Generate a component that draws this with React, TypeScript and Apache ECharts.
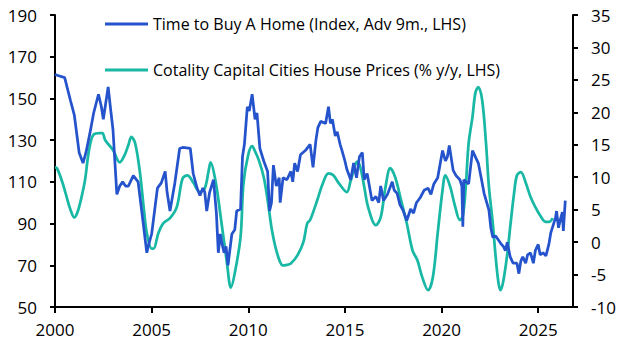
import React, { useEffect, useRef } from "react";
import * as echarts from "echarts";

const buyName = "Time to Buy A Home (Index, Adv 9m., LHS)";
const priceName = "Cotality Capital Cities House Prices (% y/y, LHS)";

const xTicks = [2000, 2005, 2010, 2015, 2020, 2025];

const buyYears = [
  2000.0, 2000.15, 2000.5, 2000.8, 2001.0, 2001.25, 2001.45, 2001.6, 2001.8, 2002.0,
  2002.25, 2002.4, 2002.5, 2002.75, 2002.9, 2003.0, 2003.2, 2003.35, 2003.5, 2003.65,
  2003.8, 2004.05, 2004.3, 2004.5, 2004.75, 2004.85, 2005.0, 2005.3, 2005.5, 2005.7,
  2005.8, 2005.95, 2006.2, 2006.45, 2006.6, 2007.0, 2007.15, 2007.35, 2007.5, 2007.65,
  2007.75, 2007.85, 2008.0, 2008.2, 2008.35, 2008.45, 2008.55, 2008.65, 2008.75, 2008.85,
  2008.95, 2009.15, 2009.3, 2009.4, 2009.6, 2009.7, 2009.8, 2009.95, 2010.05, 2010.2,
  2010.35, 2010.45, 2010.6, 2010.8, 2011.0, 2011.1, 2011.2, 2011.3, 2011.45, 2011.6,
  2011.65, 2011.8, 2012.0, 2012.2, 2012.3, 2012.4, 2012.55, 2012.7, 2012.95, 2013.2,
  2013.35, 2013.5, 2013.6, 2013.75, 2014.0, 2014.15, 2014.25, 2014.35, 2014.5, 2014.6,
  2014.75, 2014.85, 2015.0, 2015.1, 2015.3, 2015.45, 2015.6, 2015.75, 2015.9, 2016.0,
  2016.15, 2016.4, 2016.6, 2016.75, 2016.85, 2017.0, 2017.2, 2017.45, 2017.55, 2017.7,
  2017.85, 2018.0, 2018.2, 2018.4, 2018.55, 2018.7, 2018.9, 2019.1, 2019.3, 2019.45,
  2019.6, 2019.8, 2020.05, 2020.2, 2020.3, 2020.4, 2020.6, 2020.75, 2020.95, 2021.05,
  2021.1, 2021.15, 2021.4, 2021.6, 2021.75, 2021.9, 2022.05, 2022.2, 2022.45, 2022.55,
  2022.65, 2022.8, 2022.95, 2023.1, 2023.2, 2023.3, 2023.4, 2023.55, 2023.7, 2023.9,
  2024.0, 2024.1, 2024.2, 2024.35, 2024.45, 2024.6, 2024.75, 2024.85, 2025.0, 2025.1,
  2025.25, 2025.4, 2025.55, 2025.65, 2025.8, 2025.9, 2025.95, 2026.05, 2026.15, 2026.25,
  2026.3, 2026.4,
];
const buyValues = [
  161.5, 161, 160, 149, 142, 124, 119, 124, 133, 143,
  152, 146, 140, 155.5, 143, 135, 104, 108, 110, 108,
  108, 113, 110, 95, 76, 80, 85, 107, 109.5, 115,
  105, 96, 109.5, 126, 126.5, 126, 114, 107, 103.5, 107,
  105, 96, 105, 111, 95, 76, 85, 80, 76, 79,
  70, 85, 87, 96, 97, 122, 128, 146, 144, 152,
  140, 143, 126, 120, 115, 96, 100, 118, 108, 112,
  100, 112, 111, 115, 110, 119, 115, 123, 125, 128,
  117, 130, 136, 139, 138, 146, 138, 140, 132, 134,
  128, 125, 120, 116, 111, 119, 112, 122, 124, 111,
  114, 101, 103, 100, 108, 101, 104, 110, 106, 104.5,
  99, 96.5, 91.5, 97, 95, 100, 102.5, 106, 107, 104,
  109, 112, 125, 120, 122, 127.5, 115.5, 113, 111, 108,
  88.5, 111, 109, 125, 122, 119, 112, 104.5, 96.5, 88,
  83.5, 84, 82, 80, 79, 77, 81, 74, 71, 71,
  66, 72, 74, 71, 75, 76, 71, 77, 80, 75,
  76, 74.5, 80, 85.5, 90, 93, 96, 88, 92, 95.5,
  86.5, 101,
];

const priceYears = [
  2000.0, 2000.1, 2000.35, 2000.55, 2000.8, 2001.0, 2001.15, 2001.3, 2001.55, 2001.7,
  2001.85, 2002.0, 2002.3, 2002.45, 2002.6, 2003.0, 2003.35, 2003.6, 2003.8, 2003.95,
  2004.15, 2004.4, 2004.6, 2004.75, 2005.0, 2005.1, 2005.35, 2005.6, 2005.95, 2006.3,
  2006.6, 2006.85, 2007.15, 2007.5, 2007.75, 2007.95, 2008.05, 2008.3, 2008.55, 2008.9,
  2009.1, 2009.3, 2009.6, 2009.75, 2010.0, 2010.2, 2010.35, 2010.55, 2010.8, 2011.0,
  2011.25, 2011.55, 2011.8, 2012.0, 2012.2, 2012.55, 2012.85, 2013.05, 2013.2, 2013.55,
  2013.85, 2014.15, 2014.4, 2014.7, 2015.1, 2015.3, 2015.65, 2015.8, 2016.0, 2016.2,
  2016.6, 2016.85, 2017.1, 2017.35, 2017.6, 2017.9, 2018.2, 2018.5, 2018.75, 2019.0,
  2019.3, 2019.55, 2019.8, 2020.05, 2020.2, 2020.45, 2020.7, 2020.95, 2021.1, 2021.25,
  2021.4, 2021.6, 2021.75, 2021.9, 2022.1, 2022.3, 2022.45, 2022.65, 2022.8, 2022.95,
  2023.05, 2023.2, 2023.4, 2023.55, 2023.75, 2023.9, 2024.1, 2024.35, 2024.6, 2024.85,
  2025.1, 2025.4, 2025.55, 2025.75,
];
const priceValues = [
  11.5, 11.4, 9.5, 7.5, 5, 3.8, 4.5, 6, 9.5, 13,
  15.5, 16.6, 16.8, 16.8, 15.7, 14.2, 12.3, 13.4, 15, 16.2,
  15.2, 10.6, 5, 1.4, -1, -1, 1.4, 2.9, 3.7, 5.4,
  9.8, 10.3, 9.2, 7.7, 8.3, 11, 12.3, 9.5, 4.4, -3.3,
  -7, -4.8, 0.8, 9, 13.5, 14.8, 14, 12.6, 10, 6.5,
  1.4, -2.3, -3.6, -3.5, -3.3, -2, 0, 2.9, 3.4, 6.3,
  9, 10.6, 10.3, 9, 7.7, 9.5, 12.4, 11.5, 8.5, 5.4,
  2.6, 3.8, 8.5, 11.4, 10, 6.5, 2.9, -1.3, -2.8, -5.4,
  -7.4, -5.4, 1.4, 8, 10.3, 8.5, 5.5, 3.4, 4, 8.5,
  15.2, 19.3, 23, 23.9, 21.9, 15.2, 8.5, 2.9, -2.3, -6.4,
  -7.4, -5.9, -1.8, 2.3, 7.5, 10.3, 10.8, 9.2, 7, 5.4,
  4.1, 3.1, 3.1, 3.7,
];

const BLUE = "#2453cc";
const TEAL = "#19b8a5";
const FONT = "Open Sans";

export default function App() {
  const ref = useRef<HTMLDivElement>(null);
  useEffect(() => {
    if (!ref.current) return;
    const chart = echarts.init(ref.current, null, { renderer: "svg" });
    const buyData = buyYears.map((y, i) => [y, buyValues[i]]);
    const priceData = priceYears.map((y, i) => [y, priceValues[i]]);
    const axisText = { color: "#000", fontSize: 17, fontFamily: FONT };
    const legendBase = {
      left: 100,
      icon: "rect",
      itemWidth: 43,
      itemHeight: 3,
      itemGap: 4,
      textStyle: { color: "#000", fontSize: 16, fontFamily: FONT },
    };
    chart.setOption({
      animation: false,
      backgroundColor: "#fff",
      grid: { left: 55, right: 54, top: 15, bottom: 45, containLabel: false },
      legend: [
        { ...legendBase, data: [buyName], top: 11 },
        { ...legendBase, data: [priceName], top: 57 },
      ],
      xAxis: {
        type: "value",
        min: 2000,
        max: 2026.8,
        interval: 5,
        splitLine: { show: false },
        axisLine: { show: true, onZero: false, lineStyle: { color: "#000", width: 2 } },
        axisTick: { show: true, length: 6, lineStyle: { color: "#000", width: 2 }, customValues: xTicks },
        axisLabel: { ...axisText, margin: 14, customValues: xTicks, formatter: (v: number) => String(v) },
      },
      yAxis: [
        {
          type: "value",
          min: 50,
          max: 190,
          interval: 20,
          position: "left",
          splitLine: { show: false },
          axisLine: { show: true, lineStyle: { color: "#000", width: 2 } },
          axisTick: { show: true, length: 5, lineStyle: { color: "#000", width: 2 } },
          axisLabel: { ...axisText, margin: 18 },
        },
        {
          type: "value",
          min: -10,
          max: 35,
          interval: 5,
          position: "right",
          splitLine: { show: false },
          axisLine: { show: true, lineStyle: { color: "#000", width: 2 } },
          axisTick: { show: true, length: 5, lineStyle: { color: "#000", width: 2 } },
          axisLabel: { ...axisText, margin: 18 },
        },
      ],
      series: [
        {
          name: priceName,
          type: "line",
          yAxisIndex: 1,
          data: priceData,
          showSymbol: false,
          smooth: 0.35,
          lineStyle: { color: TEAL, width: 2.75 },
          itemStyle: { color: TEAL },
          z: 2,
        },
        {
          name: buyName,
          type: "line",
          yAxisIndex: 0,
          data: buyData,
          showSymbol: false,
          lineStyle: { color: BLUE, width: 2.75 },
          itemStyle: { color: BLUE },
          z: 3,
        },
      ],
    });
    return () => chart.dispose();
  }, []);
  return <div ref={ref} style={{ width: 627, height: 352, position: "absolute", left: 0, top: 0 }} />;
}
